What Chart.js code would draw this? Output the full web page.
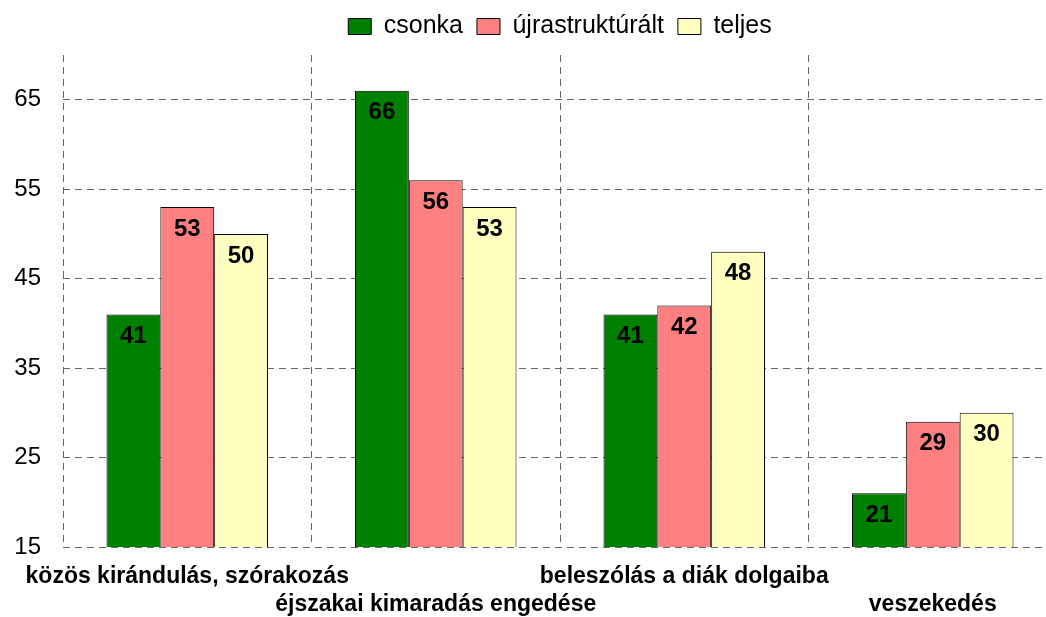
<!DOCTYPE html>
<html>
<head>
<meta charset="utf-8">
<script src="https://cdn.jsdelivr.net/npm/chart.js@4.4.0/dist/chart.umd.min.js"></script>
<style>
html,body{margin:0;padding:0;background:#fff;overflow:hidden;}
#wrap{width:1120px;height:617px;}
</style>
</head>
<body>
<div id="wrap"><canvas id="c" width="1120" height="617"></canvas></div>
<script>
const categories = ['közös kirándulás, szórakozás', 'éjszakai kimaradás engedése', 'beleszólás a diák dolgaiba', 'veszekedés'];
const seriesNames = ['csonka', 'újrastruktúrált', 'teljes'];
const csonka = [41, 66, 41, 21];
const ujrastrukturalt = [53, 56, 42, 29];
const teljes = [50, 53, 48, 30];
const yTicks = [15, 25, 35, 45, 55, 65];
const colors = ['#008000', '#FF8080', '#FFFFC0'];

const FONT = '"Liberation Sans", Arial, sans-serif';
const labels = categories.map((c, i) => i % 2 === 0 ? [c, ''] : ['', c]);

const valueLabels = {
  id: 'valueLabels',
  afterDatasetsDraw(chart) {
    const ctx = chart.ctx;
    ctx.save();
    ctx.font = 'bold 24px ' + FONT;
    ctx.fillStyle = '#000';
    ctx.textAlign = 'center';
    ctx.textBaseline = 'middle';
    chart.data.datasets.forEach((ds, di) => {
      const meta = chart.getDatasetMeta(di);
      meta.data.forEach((bar, i) => {
        ctx.fillText(String(ds.data[i]), bar.x, bar.y + 22);
      });
    });
    ctx.restore();
  }
};

const legendHeight = {
  id: 'legendHeight',
  beforeInit(chart) {
    const orig = chart.legend.fit;
    chart.legend.fit = function () {
      orig.bind(chart.legend)();
      this.height = 55;
    };
  }
};

new Chart(document.getElementById('c'), {
  type: 'bar',
  data: {
    labels: labels,
    datasets: [
      { label: seriesNames[0], data: csonka, backgroundColor: colors[0] },
      { label: seriesNames[1], data: ujrastrukturalt, backgroundColor: colors[1] },
      { label: seriesNames[2], data: teljes, backgroundColor: colors[2] }
    ].map(d => Object.assign(d, { borderColor: '#000', borderWidth: 1, borderSkipped: false, categoryPercentage: 0.65, barPercentage: 1 }))
  },
  options: {
    responsive: false,
    animation: false,
    layout: { padding: 0 },
    plugins: {
      legend: {
        position: 'top',
        labels: {
          boxWidth: 23, boxHeight: 16, padding: 14,
          color: '#000',
          font: { family: FONT, size: 25 }
        }
      },
      tooltip: { enabled: false }
    },
    scales: {
      x: {
        afterFit(scale) { scale.height = 70; },
        grid: { display: true, offset: true, color: '#666', lineWidth: 1, drawTicks: false },
        border: { display: false, dash: [7, 5] },
        ticks: {
          autoSkip: false, maxRotation: 0, minRotation: 0, padding: 16,
          color: '#000',
          font: { family: FONT, size: 23, weight: 'bold', lineHeight: 1.22 }
        }
      },
      y: {
        min: 15, max: 70,
        afterFit(scale) { scale.width = 63; },
        afterBuildTicks(scale) { scale.ticks = yTicks.map(v => ({ value: v })); },
        grid: { color: '#666', lineWidth: 1, drawTicks: false },
        border: { display: false, dash: [7, 5] },
        ticks: {
          padding: 22,
          color: '#000',
          font: { family: FONT, size: 24 }
        }
      },
      yRight: {
        position: 'right',
        afterFit(scale) { scale.width = 63; },
        grid: { display: false, drawTicks: false },
        border: { display: false },
        ticks: { display: false }
      }
    }
  },
  plugins: [valueLabels, legendHeight]
});
</script>
</body>
</html>
